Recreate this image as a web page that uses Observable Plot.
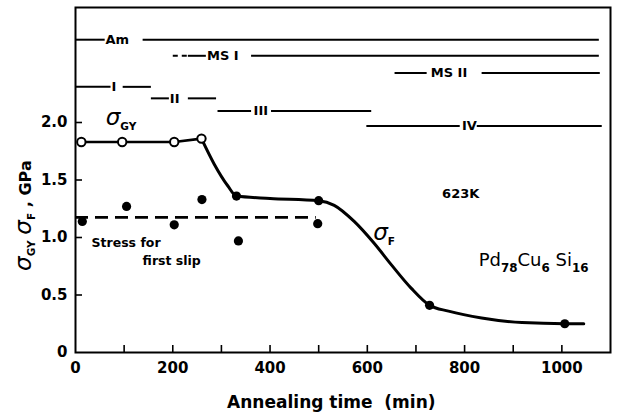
<!DOCTYPE html>
<html><head><meta charset="utf-8">
<script src="https://cdn.jsdelivr.net/npm/d3@7"></script>
<script src="https://cdn.jsdelivr.net/npm/@observablehq/plot@0.6"></script>
<style>
html,body{margin:0;padding:0;background:#fff;}
</style></head><body><div id="chart"></div>
<script>
// ---- data ----
const xMinorTicks = [100, 200, 300, 400, 500, 600, 700, 800, 900, 1000];
const xLabelTicks = [0, 200, 400, 600, 800, 1000];
const xLabelText = ["0", "200", "400", "600", "800", "1000"];
const yMinorTicks = [0.5, 1.0, 1.5, 2.0];
const yLabelTicks = [0, 0.5, 1.0, 1.5, 2.0];
const yLabelText = ["0", "0.5", "1.0", "1.5", "2.0"];

// sigma_GY (open circles)
const gyTime = [12, 96, 203, 259];
const gyStress = [1.83, 1.83, 1.83, 1.86];

// sigma_F curve (traced)
const fCurveTime = [259, 285, 313, 331, 400, 500, 532, 573, 614, 650, 690, 728, 767, 835, 918, 1006, 1045];
const fCurveStress = [1.86, 1.64, 1.45, 1.36, 1.34, 1.32, 1.28, 1.14, 0.95, 0.76, 0.56, 0.41, 0.36, 0.30, 0.26, 0.25, 0.25];
const fPointTime = [331, 500, 728, 1006];
const fPointStress = [1.36, 1.32, 0.41, 0.25];

// stress for first slip (filled dots + dashed mean line)
const slipTime = [14, 105, 203, 260, 335, 498];
const slipStress = [1.14, 1.27, 1.11, 1.33, 0.97, 1.12];
const slipLevel = 1.175;
const slipRange = [0, 495];

// structural phase bars at top
const phaseNames = ["Am", "MS I", "MS II", "I", "II", "III", "IV"];
const phaseLevels = [2.72, 2.58, 2.43, 2.31, 2.21, 2.10, 1.97];
const phaseLabelTime = [86, 303, 768, 79, 204, 381, 810];
const phaseSegments = [
  ["Am", 0, 60], ["Am", 138, 1076],
  ["MS I", 231, 268], ["MS I", 361, 1076],
  ["MS II", 656, 722], ["MS II", 835, 1078],
  ["I", 0, 72], ["I", 97, 155],
  ["II", 155, 192], ["II", 231, 289],
  ["III", 292, 361], ["III", 402, 608],
  ["IV", 598, 790], ["IV", 825, 1082]
];
const phaseDotted = [["MS I", 200, 229]];

// ---- build tables ----
const lvl = name => phaseLevels[phaseNames.indexOf(name)];
const gy = gyTime.map((t, i) => ({t, s: gyStress[i]}));
const fCurve = fCurveTime.map((t, i) => ({t, s: fCurveStress[i]}));
const fPts = fPointTime.map((t, i) => ({t, s: fPointStress[i]}));
const slip = slipTime.map((t, i) => ({t, s: slipStress[i]}));
const segs = phaseSegments.map(([n, a, b]) => ({a, b, y: lvl(n)}));
const dotted = phaseDotted.map(([n, a, b]) => ({a, b, y: lvl(n)}));
const phaseLabels = phaseNames.map((n, i) => ({n, t: phaseLabelTime[i], y: phaseLevels[i]}));

const F = "DejaVu Sans";
const chart = Plot.plot({
  width: 617, height: 412,
  marginLeft: 75, marginRight: 7, marginTop: 7, marginBottom: 60,
  x: {domain: [0, 1100]},
  y: {domain: [0, 3]},
  style: {fontFamily: F, fontSize: "15px", color: "black", background: "white", fontWeight: "bold"},
  marks: [
    Plot.frame({stroke: "black", strokeWidth: 2}),
    Plot.axisX(xMinorTicks, {anchor: "bottom", tickSize: -7, strokeWidth: 1.6, tickFormat: () => "", label: null}),
    Plot.axisX(xLabelTicks, {anchor: "bottom", tickSize: 0, tickPadding: 10, fontSize: 15, label: null,
      tickFormat: d => xLabelText[xLabelTicks.indexOf(d)]}),
    Plot.axisY(yMinorTicks, {anchor: "left", tickSize: -7, strokeWidth: 1.6, tickFormat: () => "", label: null}),
    Plot.axisY(yLabelTicks, {anchor: "left", tickSize: 0, tickPadding: 8, fontSize: 15, label: null,
      tickFormat: d => yLabelText[yLabelTicks.indexOf(d)]}),
    // phase bars
    Plot.link(segs, {x1: "a", x2: "b", y1: "y", y2: "y", stroke: "black", strokeWidth: 2}),
    Plot.link(dotted, {x1: "a", x2: "b", y1: "y", y2: "y", stroke: "black", strokeWidth: 2, strokeDasharray: "5,4"}),
    Plot.text(phaseLabels, {x: "t", y: "y", text: "n", fontSize: 13, fontWeight: "bold"}),
    // stress for first slip
    Plot.ruleY([slipLevel], {x1: slipRange[0], x2: slipRange[1], stroke: "black", strokeWidth: 2.6, strokeDasharray: "13,7"}),
    Plot.dot(slip, {x: "t", y: "s", r: 4.6, fill: "black"}),
    // sigma lines
    Plot.line(gy, {x: "t", y: "s", stroke: "black", strokeWidth: 2.6}),
    Plot.line(fCurve, {x: "t", y: "s", curve: "monotone-x", stroke: "black", strokeWidth: 3}),
    Plot.dot(gy, {x: "t", y: "s", r: 4.2, fill: "white", stroke: "black", strokeWidth: 2}),
    Plot.dot(fPts, {x: "t", y: "s", r: 4.6, fill: "black"}),
    // annotations
    Plot.text([{t: 62, s: 2.02, l: "*{σ}_{GY}"}], {x: "t", y: "s", text: "l", textAnchor: "start", fontSize: 16, fontWeight: "bold"}),
    Plot.text([{t: 612, s: 1.02, l: "*{σ}_{F}"}], {x: "t", y: "s", text: "l", textAnchor: "start", fontSize: 16, fontWeight: "bold"}),
    Plot.text([{t: 792, s: 1.38, l: "623K"}], {x: "t", y: "s", text: "l", fontSize: 13, fontWeight: "bold"}),
    Plot.text([{t: 829, s: 0.80, l: "Pd_{78}Cu_{6} Si_{16}"}], {x: "t", y: "s", text: "l", textAnchor: "start", fontSize: 18, fontWeight: "normal"}),
    Plot.text([{t: 33, s: 0.95, l: "Stress for"}], {x: "t", y: "s", text: "l", textAnchor: "start", fontSize: 12.5, fontWeight: "bold"}),
    Plot.text([{t: 138, s: 0.80, l: "first slip"}], {x: "t", y: "s", text: "l", textAnchor: "start", fontSize: 12.5, fontWeight: "bold"}),
    // axis titles
    Plot.text([{t: 0, s: 1.19, l: "*{σ}_{GY} *{σ}_{F} , GPa"}], {x: "t", y: "s", text: "l", rotate: -90, dx: -50, fontSize: 16, fontWeight: "bold"}),
    Plot.text([{t: 526, s: 0, l: "Annealing time\u00a0\u00a0(min)"}], {x: "t", y: "s", text: "l", dy: 50, fontSize: 17, fontWeight: "bold"})
  ]
});
document.getElementById("chart").appendChild(chart);

// rich text: _{..} subscript, *{..} enlarged italic sigma
(function richText(svg) {
  const NS = "http://www.w3.org/2000/svg";
  svg.querySelectorAll("text").forEach(t => {
    const s = t.textContent;
    if (!/[_*]\{/.test(s)) return;
    const fs = parseFloat(getComputedStyle(t).fontSize) || 15;
    const re = /([_*])\{([^}]*)\}|([^_*{}]+)/g;
    let m, shift = 0;
    t.textContent = "";
    while ((m = re.exec(s))) {
      const ts = document.createElementNS(NS, "tspan");
      let target = 0, size = fs, txt = m[3];
      if (m[1] === "_") { target = fs * 0.3; size = fs * 0.66; txt = m[2]; ts.setAttribute("font-weight", "bold"); }
      else if (m[1] === "*") { size = fs * 1.45; txt = m[2]; ts.setAttribute("font-style", "italic"); ts.setAttribute("font-weight", "normal"); }
      if (target - shift !== 0) ts.setAttribute("dy", (target - shift).toFixed(2));
      shift = target;
      ts.setAttribute("font-size", size.toFixed(2));
      ts.textContent = txt;
      t.appendChild(ts);
    }
  });
})(chart);
</script>
</body></html>
